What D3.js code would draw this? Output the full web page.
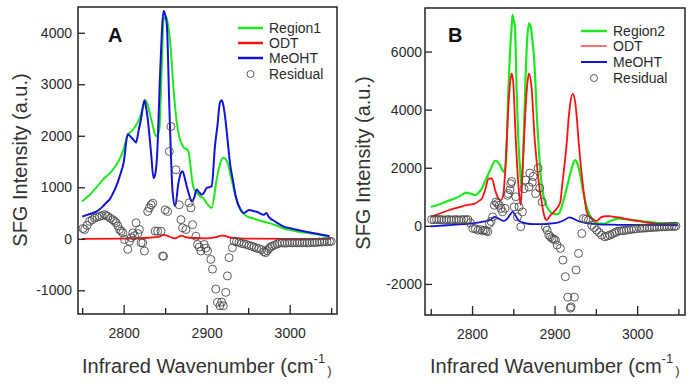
<!DOCTYPE html>
<html><head><meta charset="utf-8">
<script src="https://cdn.jsdelivr.net/npm/d3@7/dist/d3.min.js"></script>
<style>body{margin:0;background:#fff}svg{display:block}text{font-family:"Liberation Sans",Arial,sans-serif;fill:#2a2a2a}</style>
</head><body>
<svg id="c" width="696" height="386"></svg>
<script>
// ---------- data (wavenumber, intensity) ----------
const xMajorTicks = [2800, 2900, 3000];
const xMinorTicks = [2750, 2850, 2950, 3050];
const yTicksA = [-1000, 0, 1000, 2000, 3000, 4000];
const yTicksB = [-2000, 0, 2000, 4000, 6000];
const legendA = ["Region1", "ODT", "MeOHT", "Residual"];
const legendB = ["Region2", "ODT", "MeOHT", "Residual"];

const region1A = [[2750,725],[2757,820],[2763,920],[2770,1050],[2775,1150],[2782,1250],[2787,1345],[2793,1480],[2800,1740],[2805,2030],[2809,2080],[2813,2160],[2819,2330],[2823,2550],[2826,2690],[2829,2600],[2832,2400],[2835,2200],[2838,2020],[2840,1990],[2843,2130],[2846,3370],[2848,4250],[2851,4310],[2853,4200],[2856,3830],[2860,2920],[2864,2260],[2867,1980],[2870,1840],[2873,1760],[2876,1740],[2878,1700],[2880,1480],[2884,1000],[2888,900],[2892,820],[2896,790],[2900,690],[2904,620],[2906,600],[2912,1150],[2917,1500],[2920,1575],[2924,1520],[2930,1150],[2935,820],[2941,560],[2949,430],[2955,400],[2961,366],[2969,330],[2977,300],[2985,250],[2993,200],[3002,165],[3010,137],[3018,120],[3026,105],[3037,75],[3048,40]];
const odtA = [[2750,0],[2800,5],[2830,20],[2843,40],[2848,75],[2852,60],[2857,30],[2862,10],[2866,40],[2870,60],[2875,30],[2885,15],[2900,10],[2910,30],[2918,60],[2922,55],[2930,20],[2945,5],[3000,0],[3050,0]];
const meohtA = [[2750,430],[2757,470],[2763,500],[2770,560],[2775,630],[2779,700],[2783,760],[2787,880],[2791,1020],[2796,1250],[2800,1480],[2805,2030],[2809,1970],[2812,1920],[2815,1870],[2818,2100],[2821,2330],[2825,2690],[2827,2550],[2829,2330],[2833,1670],[2836,1180],[2838,1250],[2840,1540],[2844,3240],[2846,4000],[2848,4420],[2850,4350],[2852,4160],[2855,2590],[2857,1600],[2859,890],[2862,630],[2866,1085],[2869,1280],[2871,1310],[2874,1150],[2876,1020],[2879,850],[2882,725],[2885,800],[2888,955],[2891,900],[2894,856],[2897,900],[2900,990],[2903,1000],[2906,1020],[2910,1800],[2913,2200],[2916,2650],[2918,2690],[2920,2600],[2922,2390],[2925,1950],[2928,1480],[2932,1100],[2935,820],[2941,560],[2945,500],[2951,560],[2956,540],[2961,520],[2966,480],[2969,465],[2972,500],[2975,420],[2980,360],[2986,300],[2993,235],[3002,200],[3010,170],[3018,140],[3026,118],[3037,85],[3048,52]];
const residualA = [[2751,200],[2753,180],[2756,260],[2759,340],[2762,370],[2765,400],[2768,420],[2771,435],[2774,450],[2777,470],[2779,450],[2781,435],[2784,400],[2787,370],[2789,340],[2791,310],[2793,250],[2795,180],[2797,150],[2799,115],[2801,-13],[2805,-205],[2807,-50],[2809,20],[2811,115],[2813,60],[2815,310],[2817,100],[2819,180],[2821,-77],[2823,-80],[2825,-237],[2829,530],[2831,600],[2833,660],[2835,690],[2838,150],[2841,147],[2845,147],[2847,-333],[2848,-340],[2850,560],[2853,530],[2855,1695],[2857,2180],[2863,1340],[2867,660],[2869,372],[2871,212],[2875,180],[2879,700],[2881,600],[2883,275],[2887,50],[2889,-110],[2891,-160],[2893,-237],[2897,-110],[2899,-180],[2901,-237],[2905,-400],[2907,-590],[2911,-975],[2913,-1230],[2916,-1300],[2918,-1230],[2920,-1300],[2923,-1040],[2925,-720],[2927,-365],[2931,-173],[2933,-45],[2936,-60],[2939,-70],[2942,-90],[2945,-100],[2948,-110],[2951,-130],[2954,-140],[2957,-160],[2960,-180],[2963,-190],[2966,-210],[2969,-250],[2971,-270],[2973,-230],[2975,-190],[2977,-160],[2979,-140],[2982,-120],[2985,-100],[2988,-80],[2991,-80],[2994,-85],[2997,-80],[3000,-75],[3003,-80],[3006,-75],[3009,-80],[3012,-75],[3015,-80],[3018,-70],[3021,-80],[3024,-75],[3027,-70],[3030,-75],[3033,-70],[3036,-60],[3039,-65],[3042,-55],[3045,-60],[3048,-50],[3050,-50]];

const region2B = [[2750,655],[2757,710],[2763,770],[2770,850],[2779,940],[2786,1040],[2793,1140],[2799,1100],[2804,1060],[2808,1150],[2812,1290],[2816,1550],[2820,1800],[2824,2050],[2828,2240],[2831,2200],[2834,2090],[2838,1860],[2841,2150],[2844,4680],[2846,6000],[2848,6860],[2849,7260],[2851,7000],[2852,6860],[2854,4680],[2856,3000],[2858,2030],[2860,1300],[2862,2500],[2865,5250],[2867,6500],[2869,6975],[2871,6860],[2873,6400],[2875,5825],[2879,3530],[2883,1800],[2886,1100],[2889,770],[2893,550],[2897,425],[2901,400],[2905,420],[2909,700],[2913,1115],[2916,1450],[2919,1800],[2922,2100],[2925,2260],[2927,2200],[2929,2030],[2932,1600],[2935,1115],[2938,750],[2941,480],[2944,300],[2947,195],[2950,120],[2953,80],[2957,75],[2961,80],[2965,130],[2970,195],[2974,230],[2978,250],[2986,230],[2994,195],[3002,170],[3010,150],[3018,120],[3026,90],[3037,75],[3049,60]];
const odtB = [[2750,310],[2757,380],[2763,450],[2770,520],[2779,600],[2786,650],[2793,710],[2799,740],[2804,770],[2808,850],[2812,940],[2816,1250],[2820,1630],[2824,1630],[2828,1230],[2832,940],[2835,885],[2838,1100],[2840,1800],[2844,4100],[2846,4900],[2848,5250],[2850,4900],[2853,2950],[2857,1115],[2859,710],[2861,1800],[2863,3000],[2865,4100],[2867,4900],[2869,5250],[2872,4790],[2876,2950],[2879,2000],[2881,1460],[2884,900],[2886,540],[2888,300],[2890,195],[2893,280],[2895,370],[2898,450],[2901,540],[2904,650],[2907,830],[2909,1345],[2912,2100],[2915,2950],[2917,3700],[2919,4220],[2922,4540],[2925,4250],[2927,3700],[2929,2950],[2932,2000],[2935,1230],[2937,800],[2939,480],[2942,330],[2945,250],[2948,200],[2951,170],[2954,230],[2957,310],[2962,330],[2967,333],[2972,310],[2978,290],[2986,240],[2994,195],[3002,160],[3010,130],[3018,100],[3026,60],[3037,40],[3049,25]];
const meohtB = [[2750,-20],[2770,20],[2790,60],[2805,100],[2815,150],[2822,200],[2827,310],[2832,250],[2838,170],[2842,220],[2846,380],[2849,480],[2852,380],[2856,200],[2860,130],[2866,80],[2875,60],[2885,60],[2895,80],[2905,120],[2912,200],[2918,290],[2922,260],[2930,150],[2940,90],[2950,60],[2970,40],[2990,30],[3010,30],[3030,25],[3049,20]];
const residualB = [[2751,217],[2754,210],[2757,217],[2760,215],[2763,217],[2766,200],[2769,210],[2772,217],[2775,200],[2778,210],[2781,217],[2784,200],[2787,210],[2790,217],[2793,200],[2795,217],[2798,100],[2801,-90],[2804,-100],[2807,-150],[2810,-130],[2813,-170],[2815,-150],[2817,-180],[2819,-205],[2821,80],[2823,150],[2825,310],[2827,708],[2829,823],[2831,770],[2833,708],[2835,600],[2837,480],[2840,600],[2843,1050],[2844,1115],[2846,1240],[2847,1450],[2848,1528],[2851,651],[2853,1000],[2855,310],[2857,655],[2859,-34],[2861,480],[2863,1280],[2865,1575],[2869,1337],[2870,1816],[2873,1500],[2874,1700],[2877,1110],[2880,1990],[2882,1300],[2885,823],[2889,-50],[2891,-150],[2893,-320],[2895,-380],[2897,-434],[2899,-460],[2901,-490],[2903,-660],[2907,-777],[2910,-1180],[2913,-1750],[2916,-2457],[2919,-2834],[2920,-2790],[2924,-2457],[2926,-1520],[2929,-950],[2933,-263],[2935,251],[2938,230],[2941,195],[2945,23],[2948,-60],[2951,-150],[2954,-230],[2957,-320],[2961,-377],[2964,-350],[2967,-320],[2970,-280],[2973,-240],[2975,-205],[2978,-180],[2981,-170],[2984,-160],[2987,-150],[2990,-130],[2993,-120],[2996,-110],[2999,-100],[3003,-90],[3006,-80],[3009,-80],[3012,-70],[3015,-60],[3018,-60],[3021,-50],[3024,-50],[3027,-34],[3030,-40],[3033,-30],[3036,-30],[3039,-20],[3042,-20],[3045,-15],[3047,-11]];

// ---------- styles ----------
const GREEN = "#1ee81e", RED = "#ff1010", BLUE = "#1212d8", CIRC = "#4a4a4a";
const svg = d3.select("#c");

function panel(cfg) {
  const x = d3.scaleLinear().domain(cfg.xd).range([cfg.l, cfg.r]);
  const y = d3.scaleLinear().domain(cfg.yd).range([cfg.b, cfg.t]);
  const g = svg.append("g");
  const clipId = "clip" + cfg.id;
  svg.append("clipPath").attr("id", clipId).append("rect")
    .attr("x", cfg.l).attr("y", cfg.t).attr("width", cfg.r - cfg.l).attr("height", cfg.b - cfg.t);
  const pg = g.append("g").attr("clip-path", `url(#${clipId})`);
  const line = d3.line().x(d => x(d[0])).y(d => y(d[1])).curve(d3.curveMonotoneX);
  cfg.lines.forEach(s => {
    pg.append("path").datum(s.data).attr("d", line).attr("fill", "none")
      .attr("stroke", s.color).attr("stroke-width", s.w).attr("stroke-linejoin", "round");
  });
  pg.selectAll("circle.res").data(cfg.residual).join("circle").attr("class", "res")
    .attr("cx", d => x(d[0])).attr("cy", d => y(d[1])).attr("r", 4)
    .attr("fill", "none").attr("stroke", CIRC).attr("stroke-width", 0.9);

  // axes (inward ticks)
  const xa = d3.axisBottom(x).tickValues(xMajorTicks).tickSize(-9).tickPadding(14).tickFormat(d3.format("d"));
  const xm = d3.axisBottom(x).tickValues(xMinorTicks).tickSize(-6).tickFormat("");
  const ya = d3.axisLeft(y).tickValues(cfg.yticks).tickSize(-7).tickPadding(cfg.ypad).tickFormat(d3.format("d"));
  [g.append("g").attr("transform", `translate(0,${cfg.b})`).call(xa),
   g.append("g").attr("transform", `translate(0,${cfg.b})`).call(xm),
   g.append("g").attr("transform", `translate(${cfg.l},0)`).call(ya)].forEach(a => {
    a.select(".domain").remove();
    a.selectAll("line").attr("stroke", "#222").attr("stroke-width", 1.3);
    a.selectAll("text").style("font-size", "14px").style("fill", "#2a2a2a")
      .style("font-family", '"Liberation Sans",Arial,sans-serif').text(function(){return this.textContent.replace("−","-");});
  });
  g.append("rect").attr("x", cfg.l).attr("y", cfg.t).attr("width", cfg.r - cfg.l).attr("height", cfg.b - cfg.t)
    .attr("fill", "none").attr("stroke", "#222").attr("stroke-width", 1.5);

  // panel letter
  g.append("text").attr("x", cfg.l + cfg.letterDx).attr("y", 42).text(cfg.letter)
    .style("font-size", "20px").style("font-weight", "bold").style("fill", "#111");

  // legend
  const lg = g.append("g");
  cfg.legend.forEach((name, i) => {
    const yy = cfg.legY[i];
    if (i < 3) {
      lg.append("line").attr("x1", cfg.legX1).attr("x2", cfg.legX2).attr("y1", yy).attr("y2", yy)
        .attr("stroke", cfg.lines[i].color).attr("stroke-width", cfg.legW[i]);
    } else {
      lg.append("circle").attr("cx", (cfg.legX1 + cfg.legX2) / 2).attr("cy", yy).attr("r", 3.5)
        .attr("fill", "none").attr("stroke", CIRC).attr("stroke-width", 0.9);
    }
    lg.append("text").attr("x", cfg.legX2 + 6).attr("y", yy + 5).text(name).style("font-size", "14px");
  });

  // axis titles
  const xt = g.append("text").attr("x", cfg.xtX).attr("y", 373).style("font-size", "20px").style("fill", "#333");
  xt.append("tspan").text("Infrared Wavenumber (cm");
  xt.append("tspan").text("-1").style("font-size", "13px").attr("dy", -10);
  xt.append("tspan").text(")").style("font-size", "13px").attr("dy", 12).attr("dx", 2);
  g.append("text").attr("transform", `translate(${cfg.ytX},${cfg.ytY}) rotate(-90)`)
    .attr("text-anchor", "middle").text("SFG Intensity (a.u.)").style("font-size", "20px").style("fill", "#333");
}

panel({
  id: "A", l: 78, r: 337, t: 7, b: 314, xd: [2745, 3057], yd: [-1460, 4500],
  yticks: yTicksA, ypad: 6, letter: "A", letterDx: 30,
  lines: [{data: region1A, color: GREEN, w: 2}, {data: odtA, color: RED, w: 1.8}, {data: meohtA, color: BLUE, w: 2}],
  residual: residualA, legend: legendA, legY: [28, 43, 58, 74], legX1: 238, legX2: 263, legW: [2.5, 2.5, 2.5],
  xtX: 82, ytX: 27, ytY: 160
});
panel({
  id: "B", l: 425, r: 685, t: 8, b: 315, xd: [2743, 3058], yd: [-3070, 7500],
  yticks: yTicksB, ypad: 3, letter: "B", letterDx: 23,
  lines: [{data: region2B, color: GREEN, w: 2.2}, {data: odtB, color: RED, w: 1.8}, {data: meohtB, color: BLUE, w: 1.8}],
  residual: residualB, legend: legendB, legY: [31, 46, 62, 78], legX1: 581, legX2: 607, legW: [2.5, 1.2, 2],
  xtX: 430, ytX: 370, ytY: 163
});
</script>
</body></html>
